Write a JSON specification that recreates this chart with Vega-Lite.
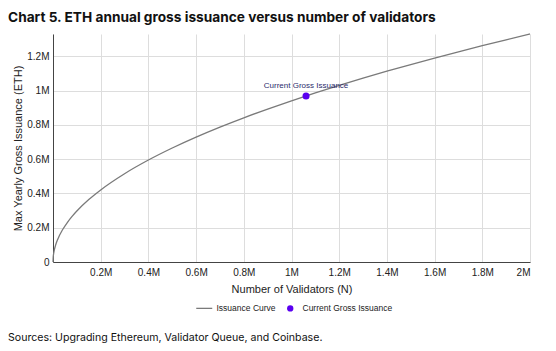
{
  "$schema": "https://vega.github.io/schema/vega-lite/v6.json",
  "width": 477,
  "height": 228,
  "autosize": {"type": "none"},
  "padding": {"left": 53, "top": 34, "right": 26, "bottom": 89},
  "background": "white",
  "title": {
    "text": "Chart 5. ETH annual gross issuance versus number of validators",
    "anchor": "start",
    "frame": "group",
    "dx": -45,
    "offset": 7,
    "font": "Inter",
    "fontSize": 13.7,
    "fontWeight": "bold",
    "color": "#111111"
  },
  "config": {
    "view": {"stroke": null},
    "axis": {
      "labelFont": "Liberation Sans",
      "titleFont": "Liberation Sans",
      "labelFontSize": 10,
      "titleFontSize": 11,
      "titleFontWeight": "normal",
      "labelColor": "#222222",
      "titleColor": "#222222",
      "gridColor": "#dddddd",
      "domainColor": "#444444",
      "ticks": false,
      "labelOverlap": false
    }
  },
  "datasets": {
    "curve": [
      {"N": 0, "issuance": 0, "series": "Issuance Curve"},
      {"N": 1000, "issuance": 29750, "series": "Issuance Curve"},
      {"N": 2500, "issuance": 47044, "series": "Issuance Curve"},
      {"N": 5000, "issuance": 66530, "series": "Issuance Curve"},
      {"N": 10000, "issuance": 94087, "series": "Issuance Curve"},
      {"N": 20000, "issuance": 133060, "series": "Issuance Curve"},
      {"N": 40000, "issuance": 188174, "series": "Issuance Curve"},
      {"N": 60000, "issuance": 230466, "series": "Issuance Curve"},
      {"N": 80000, "issuance": 266117, "series": "Issuance Curve"},
      {"N": 100000, "issuance": 297528, "series": "Issuance Curve"},
      {"N": 150000, "issuance": 364400, "series": "Issuance Curve"},
      {"N": 200000, "issuance": 420770, "series": "Issuance Curve"},
      {"N": 300000, "issuance": 515340, "series": "Issuance Curve"},
      {"N": 400000, "issuance": 595060, "series": "Issuance Curve"},
      {"N": 500000, "issuance": 665290, "series": "Issuance Curve"},
      {"N": 600000, "issuance": 728800, "series": "Issuance Curve"},
      {"N": 700000, "issuance": 787190, "series": "Issuance Curve"},
      {"N": 800000, "issuance": 841540, "series": "Issuance Curve"},
      {"N": 900000, "issuance": 892590, "series": "Issuance Curve"},
      {"N": 1000000, "issuance": 940870, "series": "Issuance Curve"},
      {"N": 1100000, "issuance": 986790, "series": "Issuance Curve"},
      {"N": 1200000, "issuance": 1030670, "series": "Issuance Curve"},
      {"N": 1300000, "issuance": 1072760, "series": "Issuance Curve"},
      {"N": 1400000, "issuance": 1113250, "series": "Issuance Curve"},
      {"N": 1500000, "issuance": 1152320, "series": "Issuance Curve"},
      {"N": 1600000, "issuance": 1190110, "series": "Issuance Curve"},
      {"N": 1700000, "issuance": 1226740, "series": "Issuance Curve"},
      {"N": 1800000, "issuance": 1262310, "series": "Issuance Curve"},
      {"N": 1900000, "issuance": 1296890, "series": "Issuance Curve"},
      {"N": 2000000, "issuance": 1330580, "series": "Issuance Curve"}
    ],
    "current": [
      {"N": 1061000, "issuance": 969000, "series": "Current Gross Issuance", "label": "Current Gross Issuance"}
    ],
    "note": [
      {"text": "Sources: Upgrading Ethereum, Validator Queue, and Coinbase."}
    ]
  },
  "encoding": {
    "x": {
      "field": "N",
      "type": "quantitative",
      "scale": {"domain": [0, 2000000], "nice": false},
      "axis": {
        "title": "Number of Validators (N)",
        "values": [0, 200000, 400000, 600000, 800000, 1000000, 1200000, 1400000, 1600000, 1800000, 2000000],
        "labelExpr": "datum.value == 0 ? '' : format(datum.value / 1000000, '.1~f') + 'M'",
        "labelPadding": 5,
        "titlePadding": 6
      }
    },
    "y": {
      "field": "issuance",
      "type": "quantitative",
      "scale": {"domain": [0, 1330580], "nice": false},
      "axis": {
        "title": "Max Yearly Gross Issuance (ETH)",
        "values": [0, 200000, 400000, 600000, 800000, 1000000, 1200000],
        "tickCount": 7,
        "labelExpr": "datum.value == 0 ? '0' : format(datum.value / 1000000, '.1~f') + 'M'",
        "labelPadding": 4,
        "titlePadding": 3
      }
    }
  },
  "layer": [
    {
      "data": {"name": "curve"},
      "mark": {"type": "line", "strokeWidth": 1.3, "interpolate": "monotone"},
      "encoding": {
        "color": {
          "field": "series",
          "type": "nominal",
          "scale": {"domain": ["Issuance Curve", "Current Gross Issuance"], "range": ["#7a7a7a", "#5a00f0"]},
          "legend": {
            "title": null,
            "orient": "none",
            "legendX": 147,
            "legendY": 270,
            "direction": "horizontal",
            "labelFont": "Liberation Sans",
            "labelFontSize": 8.5,
            "labelColor": "#222222",
            "labelOffset": 8,
            "symbolSize": 256,
            "columnPadding": 10,
            "encode": {
              "symbols": {
                "update": {
                  "shape": {"signal": "datum.value === 'Issuance Curve' ? 'stroke' : 'circle'"},
                  "size": {"signal": "datum.value === 'Issuance Curve' ? 256 : 40"},
                  "fill": {"signal": "datum.value === 'Issuance Curve' ? 'transparent' : '#5a00f0'"},
                  "stroke": {"signal": "datum.value === 'Issuance Curve' ? '#7a7a7a' : '#5a00f0'"},
                  "strokeWidth": {"signal": "datum.value === 'Issuance Curve' ? 1.3 : 0"}
                }
              }
            }
          }
        }
      }
    },
    {
      "data": {"name": "current"},
      "mark": {"type": "point", "filled": true, "size": 50, "opacity": 1},
      "encoding": {
        "color": {"field": "series", "type": "nominal"}
      }
    },
    {
      "data": {"name": "current"},
      "mark": {"type": "text", "dy": -10, "fontSize": 8, "font": "Liberation Sans", "color": "#2b2b6b"},
      "encoding": {
        "text": {"field": "label"}
      }
    },
    {
      "data": {"name": "note"},
      "mark": {"type": "text", "align": "left", "baseline": "middle", "font": "Inter", "fontSize": 10.6, "color": "#111111"},
      "encoding": {
        "x": {"value": -45},
        "y": {"value": 304},
        "text": {"field": "text"}
      }
    }
  ]
}
